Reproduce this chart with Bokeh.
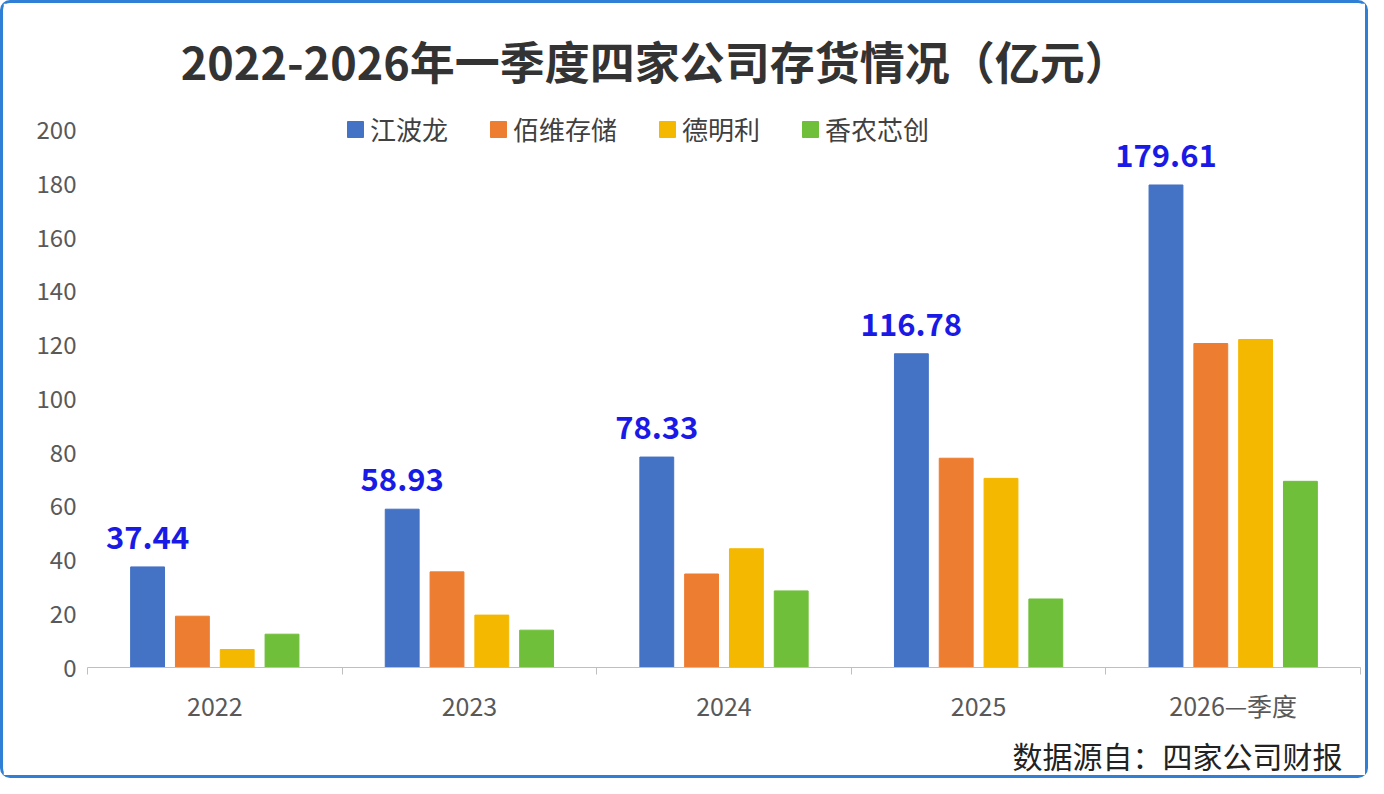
from bokeh.plotting import figure
from bokeh.models import ColumnDataSource, FixedTicker, Legend, LegendItem, Title, Range1d
from bokeh.embed import file_html
from bokeh.resources import INLINE

categories = ["2022", "2023", "2024", "2025", "2026—季度"]
series = ["江波龙", "佰维存储", "德明利", "香农芯创"]
jbl = [37.44, 58.93, 78.33, 116.78, 179.61]
bwcc = [19.1, 35.6, 34.8, 77.9, 120.6]
dml = [6.7, 19.5, 44.2, 70.4, 122.1]
xnxc = [12.4, 13.9, 28.5, 25.5, 69.3]
colors = ["#4472c4", "#ed7d31", "#f4b800", "#70bf3a"]
yticks = [0, 20, 40, 60, 80, 100, 120, 140, 160, 180, 200]

FONT = "Noto Sans CJK SC"
p = figure(width=1368, height=778, output_backend="svg", toolbar_location=None,
           x_range=Range1d(0, 5), y_range=Range1d(0, 242.7),
           min_border_left=84, min_border_right=11, min_border_top=12, min_border_bottom=113)
p.styles = {"border": "3px solid #2f7fd6", "border-radius": "10px"}
p.outline_line_color = None
p.xgrid.visible = False
p.ygrid.visible = False

centers = [i + 0.5 for i in range(len(categories))]
step = 0.176
items = []
for k, (vals, c, name) in enumerate(zip([jbl, bwcc, dml, xnxc], colors, series)):
    xs = [x + (k - 1.5) * step for x in centers]
    src = ColumnDataSource(dict(x=xs, top=vals))
    r = p.vbar(x="x", top="top", width=0.133, source=src, color=c)
    items.append(LegendItem(label=name, renderers=[r]))
    if k == 0:
        lsrc = ColumnDataSource(dict(x=xs, y=vals, t=["%.2f" % v for v in vals]))
        p.text(x="x", y="y", text="t", source=lsrc, text_align="center", text_baseline="bottom",
               y_offset=-18, text_font_size="31px", text_font_style="bold", text_color="#1a1ae6",
               text_font={"value": FONT})

p.text(x=[2.23], y=[226], text=["2022-2026年一季度四家公司存货情况（亿元）"], text_align="center",
       text_baseline="middle", text_font_size="45px", text_font_style="bold", text_color="#333333",
       text_font={"value": FONT})

leg = Legend(items=items, orientation="horizontal", location=(258, 520), border_line_color=None,
             background_fill_alpha=0, label_text_font=FONT, label_text_font_size="26px",
             label_text_color="#404040", glyph_width=20, glyph_height=20, spacing=40)
p.add_layout(leg, "center")

p.yaxis.ticker = FixedTicker(ticks=yticks)
p.yaxis.axis_line_color = None
p.yaxis.major_tick_line_color = None
p.yaxis.minor_tick_line_color = None
p.yaxis.major_label_text_font_size = "24px"
p.yaxis.major_label_text_color = "#595959"
p.yaxis.major_label_text_font = FONT

p.xaxis.ticker = FixedTicker(ticks=centers, minor_ticks=[0, 1, 2, 3, 4, 5])
p.xaxis.major_label_overrides = {c: t for c, t in zip(centers, categories)}
p.xaxis.major_tick_line_color = None
p.xaxis.minor_tick_in = 0
p.xaxis.minor_tick_out = 7
p.xaxis.minor_tick_line_color = "#bfbfbf"
p.xaxis.axis_line_color = "#bfbfbf"
p.xaxis.major_label_text_font_size = "25px"
p.xaxis.major_label_text_color = "#595959"
p.xaxis.major_label_text_font = FONT
p.xaxis.major_label_standoff = 12

p.add_layout(Title(text="数据源自：四家公司财报", align="right", text_font_size="30px",
                   text_font_style="normal", text_color="#222222", text_font=FONT, offset=18), "below")

open("out.html", "w").write(file_html(p, INLINE))
